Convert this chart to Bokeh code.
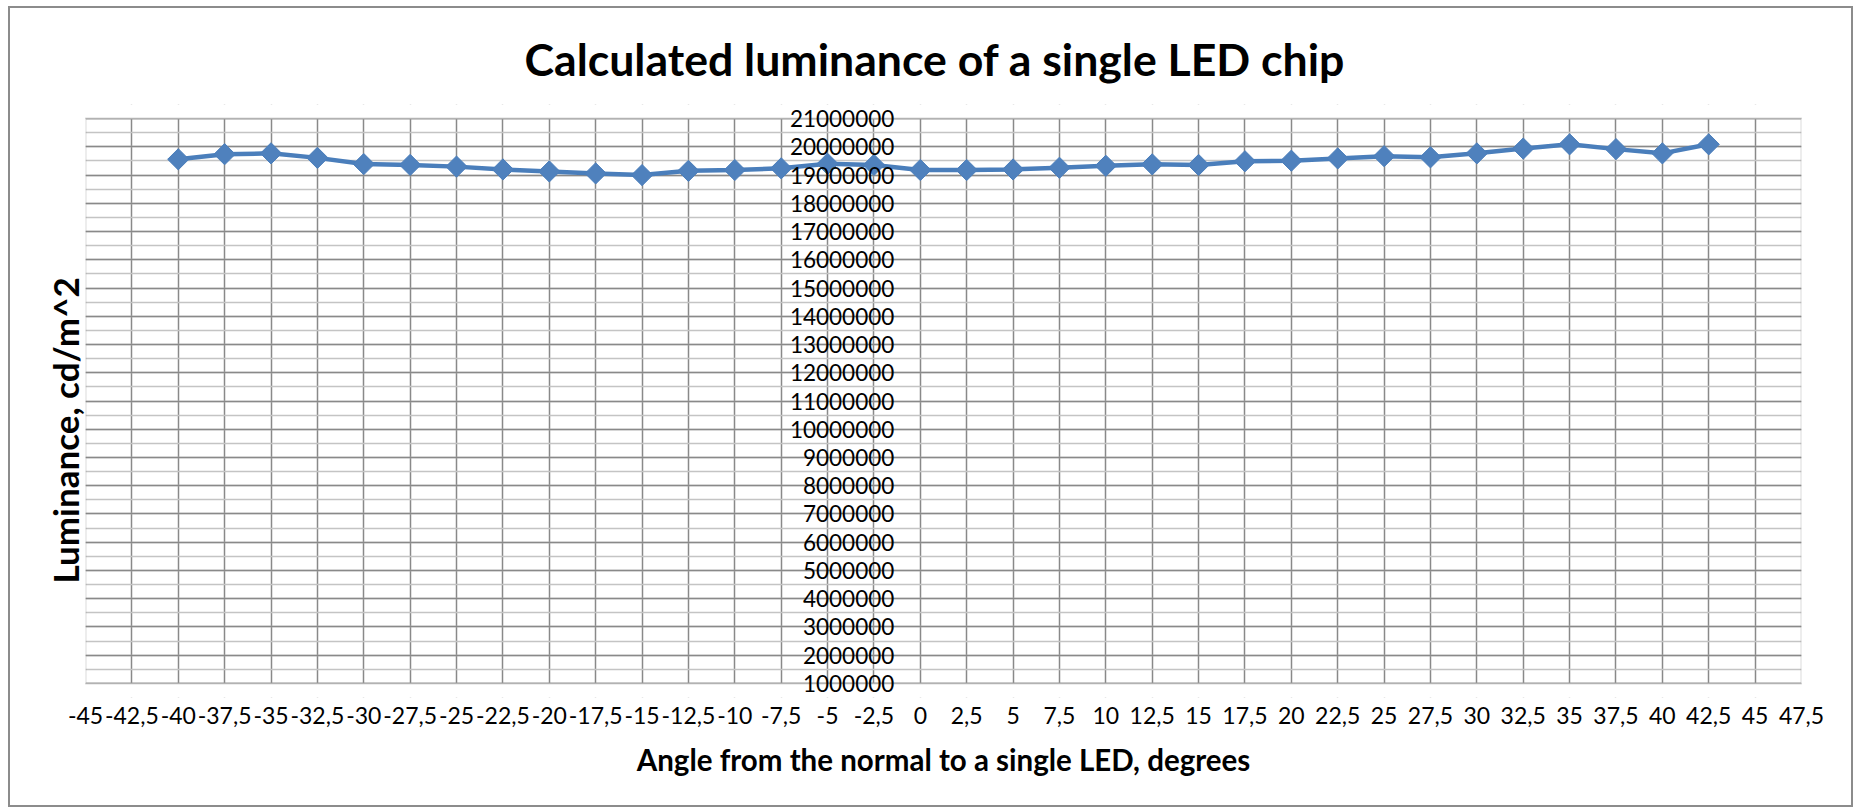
from bokeh.plotting import figure
from bokeh.models import (FixedTicker, SingleIntervalTicker, CustomJSTickFormatter,
                          Range1d, Title, ColumnDataSource, BoxAnnotation)
from bokeh.embed import file_html
from bokeh.resources import INLINE

# ---- data ----
angles = [-40, -37.5, -35, -32.5, -30, -27.5, -25, -22.5, -20, -17.5, -15, -12.5,
          -10, -7.5, -5, -2.5, 0, 2.5, 5, 7.5, 10, 12.5, 15, 17.5, 20, 22.5, 25,
          27.5, 30, 32.5, 35, 37.5, 40, 42.5]
luminance = [19560000, 19740000, 19770000, 19610000, 19390000, 19360000, 19300000,
             19200000, 19130000, 19060000, 19000000, 19150000, 19180000, 19240000,
             19400000, 19360000, 19180000, 19180000, 19200000, 19260000, 19330000,
             19380000, 19360000, 19490000, 19510000, 19590000, 19670000, 19630000,
             19770000, 19940000, 20090000, 19920000, 19770000, 20090000]
x_ticks = [-45, -42.5, -40, -37.5, -35, -32.5, -30, -27.5, -25, -22.5, -20, -17.5,
           -15, -12.5, -10, -7.5, -5, -2.5, 0, 2.5, 5, 7.5, 10, 12.5, 15, 17.5, 20,
           22.5, 25, 27.5, 30, 32.5, 35, 37.5, 40, 42.5, 45, 47.5]
y_ticks = [1000000, 2000000, 3000000, 4000000, 5000000, 6000000, 7000000, 8000000,
           9000000, 10000000, 11000000, 12000000, 13000000, 14000000, 15000000,
           16000000, 17000000, 18000000, 19000000, 20000000, 21000000]
y_axis_crossing = 0

title_text = "Calculated luminance of a single LED chip"
x_title = "Angle from the normal to a single LED, degrees"
y_title = "Luminance, cd/m^2"

FONT = "Lato"
GRID_MAJOR = "#898989"
GRID_MINOR = "#c4c4c4"
BLUE_LINE = "#4a7ebb"
BLUE_FILL = "#4f81bd"

# a little blank room above/below the value axis so its end labels are not cut
PAD = 500000
x_lo, x_hi = x_ticks[0], x_ticks[-1]
y_lo, y_hi = y_ticks[0], y_ticks[-1]

p = figure(width=1841, height=797, output_backend="svg", toolbar_location=None,
           x_range=Range1d(x_lo, x_hi),
           y_range=Range1d(y_lo - PAD, y_hi + PAD),
           min_border_left=75, min_border_right=50, min_border_top=96,
           min_border_bottom=108)
p.frame_width = 1716
p.frame_height = 593
p.styles = {"border": "2px solid #8c8c8c", "margin": "6px 0px 0px 8px"}

# chart title, centred on the whole chart area rather than the plot area
p.title.text = title_text
p.title.align = "left"
p.title.offset = 439
p.title.text_font = FONT
p.title.text_font_style = "bold"
p.title.text_font_size = "44.6px"
p.title.text_color = "#000000"
p.title.standoff = 39

p.outline_line_color = None
p.background_fill_color = "white"
p.border_fill_color = "white"

# x axis
xa = p.xaxis[0]
xa.ticker = FixedTicker(ticks=x_ticks)
xa.formatter = CustomJSTickFormatter(code="return tick.toString().replace('.', ',');")
xa.axis_line_color = None
xa.major_tick_line_color = None
xa.minor_tick_line_color = None
xa.major_label_text_font = FONT
xa.major_label_text_font_size = "23px"
xa.major_label_text_color = "#000000"
xa.major_label_standoff = 3
xa.axis_label = x_title
xa.axis_label_text_font = FONT
xa.axis_label_text_font_style = "bold"
xa.axis_label_text_font_size = "29.5px"
xa.axis_label_text_color = "#000000"
xa.axis_label_standoff = 15

# y axis crosses at x = 0, as in the original
ya = p.yaxis[0]
ya.fixed_location = y_axis_crossing
ya.ticker = FixedTicker(ticks=y_ticks)
ya.formatter = CustomJSTickFormatter(code="return tick.toFixed(0);")
ya.axis_line_color = None
ya.major_tick_line_color = None
ya.minor_tick_line_color = None
ya.major_tick_out = 0
ya.major_tick_in = 0
ya.major_label_standoff = 26
ya.major_label_text_font = FONT
ya.major_label_text_font_size = "22.5px"
ya.major_label_text_color = "#000000"

p.ygrid.ticker = SingleIntervalTicker(interval=1000000, num_minor_ticks=2)
p.ygrid.grid_line_color = GRID_MAJOR
p.ygrid.grid_line_width = 1.5
p.ygrid.minor_grid_line_color = GRID_MINOR
p.ygrid.minor_grid_line_width = 1.5
p.xgrid.ticker = FixedTicker(ticks=x_ticks)
p.xgrid.grid_line_color = GRID_MAJOR
p.xgrid.grid_line_width = 1.5

# blank the padding strips, then draw the plot-area border
p.add_layout(BoxAnnotation(bottom=y_lo - PAD, top=y_lo, fill_color="white",
                           fill_alpha=1, line_color=None, level="underlay"))
p.add_layout(BoxAnnotation(bottom=y_hi, top=y_hi + PAD, fill_color="white",
                           fill_alpha=1, line_color=None, level="underlay"))
p.add_layout(BoxAnnotation(left=x_lo, right=x_hi, bottom=y_lo, top=y_hi,
                           fill_alpha=0, line_color=GRID_MAJOR, line_width=2,
                           level="underlay"))

p.add_layout(Title(text=y_title, align="left", text_font=FONT,
                   text_font_style="bold", text_font_size="35px",
                   text_color="#000000", offset=114, standoff=0), "left")

src = ColumnDataSource(dict(x=angles, y=luminance))
p.line(x="x", y="y", source=src, line_color=BLUE_LINE, line_width=4.5)
p.scatter(x="x", y="y", source=src, marker="square", angle=0.785398, size=15,
          fill_color=BLUE_FILL, line_color=BLUE_LINE, line_width=1)

open("out.html", "w").write(file_html(p, INLINE))
